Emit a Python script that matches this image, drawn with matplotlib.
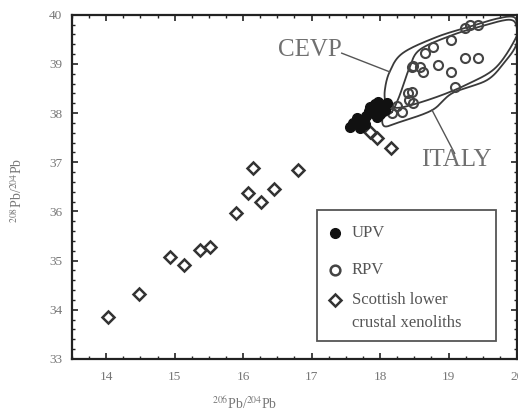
"""Pb isotope plot: 208Pb/204Pb vs 206Pb/204Pb with CEVP and Italy fields."""

import numpy as np
import matplotlib
matplotlib.use("Agg")
import matplotlib.pyplot as plt
from matplotlib.patches import Rectangle
from matplotlib.ticker import MultipleLocator

plt.rcParams["font.family"] = ["Liberation Serif", "DejaVu Serif"]
plt.rcParams["mathtext.fontset"] = "stix"

# UPV (filled circles)
upv_206 = [17.56, 17.60, 17.67, 17.72, 17.78, 17.85, 17.89, 17.95, 17.97,
           18.03, 18.07, 17.92, 17.80, 17.70, 18.00, 17.84, 18.10]
upv_208 = [37.71, 37.80, 37.90, 37.75, 37.78, 38.12, 38.00, 37.92, 38.22,
           38.10, 38.06, 38.18, 37.95, 37.70, 37.98, 38.05, 38.20]

# RPV (open circles)
rpv_206 = [18.85, 19.24, 19.43, 19.04, 18.48, 18.63, 18.65, 19.04, 19.24,
           19.43, 19.31, 18.77, 18.46, 18.43, 18.41, 18.48, 18.32, 18.17,
           18.58, 18.46, 19.09, 18.25]
rpv_208 = [38.98, 39.12, 39.12, 38.84, 38.95, 38.84, 39.22, 39.49, 39.73,
           39.80, 39.80, 39.35, 38.43, 38.27, 38.41, 38.20, 38.02, 38.00,
           38.94, 38.94, 38.54, 38.15]

# Scottish lower crustal xenoliths (open diamonds)
sco_206 = [14.03, 14.48, 14.93, 15.13, 15.37, 15.52, 15.89, 16.07, 16.15,
           16.26, 16.45, 16.80, 17.85, 17.95, 18.16]
sco_208 = [33.86, 34.32, 35.07, 34.90, 35.22, 35.27, 35.97, 36.37, 36.89,
           36.20, 36.46, 36.85, 37.62, 37.50, 37.30]

# field outlines (control points, closed)
cevp_206 = [18.08, 18.07, 18.14, 18.33, 18.83, 19.31, 19.70, 19.94, 20.00,
            19.99, 19.70, 19.31, 18.83, 18.33, 18.14]
cevp_208 = [38.22, 38.47, 38.84, 39.22, 39.55, 39.76, 39.92, 39.96, 39.82,
            39.55, 38.94, 38.61, 38.33, 38.12, 38.14]
italy_206 = [18.17, 18.26, 18.33, 18.43, 18.58, 19.06, 19.46, 19.89, 20.00,
             19.99, 19.82, 19.56, 19.06, 18.76, 18.29, 18.07, 18.04]
italy_208 = [38.02, 38.27, 38.53, 38.92, 39.29, 39.59, 39.76, 39.90, 39.73,
             39.39, 39.04, 38.67, 38.41, 38.06, 37.82, 37.73, 37.90]


def closed_curve(xs, ys, n=20):
    # closed Catmull-Rom spline through the control points
    p = np.column_stack([xs, ys])
    m = len(p)
    t = np.linspace(0, 1, n, endpoint=False)[:, None]
    segs = []
    for i in range(m):
        p0, p1, p2, p3 = p[(i - 1) % m], p[i], p[(i + 1) % m], p[(i + 2) % m]
        segs.append(0.5 * (2 * p1 + (-p0 + p2) * t
                           + (2 * p0 - 5 * p1 + 4 * p2 - p3) * t ** 2
                           + (-p0 + 3 * p1 - 3 * p2 + p3) * t ** 3))
    segs.append(p[:1])
    return np.vstack(segs)


fig = plt.figure(figsize=(5.18, 4.12), dpi=100)
ax = fig.add_axes([0.139, 0.129, 0.859, 0.835])

ink = "#222222"
txt = "#777777"

for xs, ys in [(cevp_206, cevp_208), (italy_206, italy_208)]:
    c = closed_curve(xs, ys)
    ax.plot(c[:, 0], c[:, 1], color="#3a3a3a", lw=1.3, zorder=2)

ax.plot(sco_206, sco_208, ls="none", marker="D", ms=6, mfc="white",
        mec="#333333", mew=1.8, zorder=3)
ax.plot(rpv_206, rpv_208, ls="none", marker="o", ms=6.5, mfc="none",
        mec="#444444", mew=1.5, zorder=3)
ax.plot(upv_206, upv_208, ls="none", marker="o", ms=7, mfc="#111111",
        mec="#111111", zorder=4)

# field labels with leader lines
ax.plot([17.44, 18.14], [39.22, 38.84], color="#555555", lw=1.0)
ax.text(16.97, 39.29, "CEVP", fontsize=18, color="#707070",
        ha="center", va="center")
ax.plot([18.76, 19.09], [38.06, 37.18], color="#555555", lw=1.0)
ax.text(19.12, 37.04, "ITALY", fontsize=18, color="#707070",
        ha="center", va="center")

ax.set_xlim(13.5, 20)
ax.set_ylim(33, 40)
ax.xaxis.set_major_locator(MultipleLocator(1))
ax.xaxis.set_minor_locator(MultipleLocator(0.25))
ax.yaxis.set_major_locator(MultipleLocator(1))
ax.yaxis.set_minor_locator(MultipleLocator(0.2))
ax.tick_params(which="both", direction="in", top=True, right=True,
               color=ink, labelcolor=txt, labelsize=9.5)
ax.tick_params(which="major", length=4, width=1.2)
ax.tick_params(which="minor", length=2.5, width=1.0)
ax.tick_params(axis="x", pad=9)
ax.tick_params(axis="y", pad=7)
for s in ax.spines.values():
    s.set_color(ink)
    s.set_linewidth(1.6)

ax.set_xlabel(r"$^{206}$Pb/$^{204}$Pb", fontsize=10, color=txt)
ax.xaxis.set_label_coords(0.389, -0.105)
ax.set_ylabel(r"$^{208}$Pb/$^{204}$Pb", fontsize=10, color=txt)
ax.yaxis.set_label_coords(-0.105, 0.49)

# legend box
ax.add_patch(Rectangle((0.551, 0.052), 0.402, 0.381, transform=ax.transAxes,
                       fill=True, fc="white", ec="#555555", lw=1.3, zorder=5))
tr = ax.transAxes
ax.plot([0.591], [0.366], transform=tr, marker="o", ms=7, mfc="#111111",
        mec="#111111", zorder=6)
ax.plot([0.591], [0.259], transform=tr, marker="o", ms=7, mfc="none",
        mec="#444444", mew=1.8, zorder=6)
ax.plot([0.591], [0.172], transform=tr, marker="D", ms=6, mfc="white",
        mec="#333333", mew=1.8, zorder=6)
legend_labels = ["UPV", "RPV", "Scottish lower", "crustal xenoliths"]
for lab, y in zip(legend_labels, [0.366, 0.259, 0.172, 0.105]):
    ax.text(0.629, y, lab, transform=tr, fontsize=12, color="#555555",
            va="center", ha="left", zorder=6)

fig.savefig("out.png", dpi=100)
